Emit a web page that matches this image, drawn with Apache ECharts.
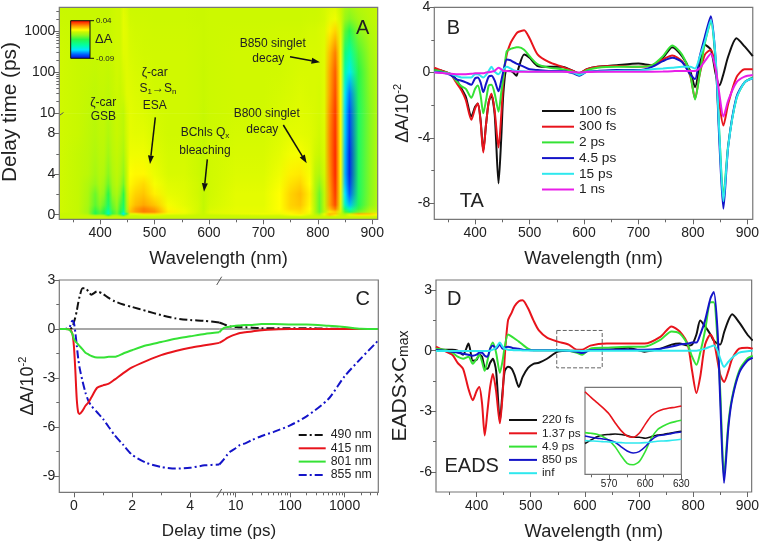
<!DOCTYPE html>
<html>
<head>
<meta charset="utf-8">
<script src="https://cdn.jsdelivr.net/npm/echarts@6/dist/echarts.min.js"></script>
<style>
html, body { margin: 0; padding: 0; background: #fff; }
#chart { width: 762px; height: 542px; }
</style>
</head>
<body>
<div id="chart"></div>
<script>
// ---- panel A: delta A map (units of 10^-2), one row per delay, one column per wavelength
const heatWavelengths = [325,360,378,391,400,407,415,423,431,437,443,449,455,465,480,500,525,555,580,590,602,650,700,730,750,768,785,795,803,812,822,832,842,850,858,875,895,910];
const heatDelays = [-0.45,-0.2,-0.05,0.1,0.3,0.6,1,2,3,4,6,8,10,30,100,300,1000,2000,3845];
const heatRows = [
  [0,0,0,0,0,0,0,0,0,0,0,0,0,0,0,0,0,0,0,0,0,0,0,0,0,0,0,0,0,0,0,0,0,0,0,0,0,0],
  [0,0,0,0,0,0,-.1,0,0,0,-.1,0,0,0,0,0,0,0,0,0,0,0,0,0,0,0,0,0,0,0,0,0,0,0,0,0,0,0],
  [0,0,-.2,-1,-.8,-1,-2.5,-1,-.7,-1.5,-3.5,-1,.2,.1,.3,.3,.1,.1,0,0,0,.1,.2,.2,.5,.6,.2,-.1,-.5,.3,1.5,1,0,-.3,.3,1,1,.6],
  [0,-.1,-.6,-2.6,-1.9,-2.5,-4.8,-2.2,-1.5,-2.8,-6,-2.4,.3,.5,1.2,1.2,.5,.4,.1,0,.2,.4,.5,.5,.8,1,.5,-.3,-1,.4,1.6,1.5,0,-.8,0,1.8,1.5,.9],
  [.1,-.1,-.8,-2.6,-1.9,-2.5,-4.5,-2.2,-1.4,-2.5,-4.3,-1,1.5,2,2.4,2.2,.9,.5,.15,0,.3,.4,.4,.6,.9,1.1,.6,-.5,-1.6,-.3,1,1.4,.2,-2,-3.2,-1.5,-.3,.1],
  [.1,-.1,-.8,-2.2,-1.5,-2.2,-3.8,-1.8,-1.2,-2.2,-3.4,-.7,1.4,2,2.4,2,.8,.45,.15,-.1,.2,.4,.4,.7,1.2,1.3,.7,-.5,-1.7,-.3,1.6,2.4,.3,-3.5,-5,-2.2,-.8,-.3],
  [.1,-.1,-.7,-1.8,-1.2,-1.7,-3.2,-1.6,-1,-2,-3,-.6,1.2,1.6,1.9,1.5,.6,.35,.15,-.1,.15,.35,.35,.7,1.3,1.5,.8,-.5,-1.7,-.2,2,3,.4,-5,-6.5,-2.8,-1.2,-.4],
  [.1,-.1,-.6,-1.6,-.8,-1.1,-2.5,-1,-.6,-1.2,-2.4,-.3,1,1.3,1.5,.9,.4,.3,.1,-.1,.1,.35,.35,.7,1.3,1.6,.9,-.5,-1.6,-.2,2,3.2,.5,-6,-7.5,-3,-1.3,-.4],
  [.1,-.1,-.5,-1,-.5,-.8,-1.6,-.7,-.3,-.8,-1.5,0,.8,1,1.2,.6,.3,.25,.1,-.1,.1,.3,.3,.6,1.1,1.3,.7,-.4,-1.1,0,2.1,3.3,.6,-6.4,-8,-3,-1.3,-.4],
  [.1,-.1,-.3,-.7,-.4,-.5,-1.2,-.5,-.2,-.5,-1.1,0,.7,.8,.8,.45,.2,.2,.05,-.1,.1,.25,.25,.5,.9,1,.6,-.2,-.5,.1,2.2,3.4,.7,-6.6,-8.3,-3,-1.3,-.4],
  [.1,-.1,-.25,-.5,-.3,-.3,-.8,-.3,-.1,-.3,-.6,.1,.5,.5,.5,.3,.15,.15,.05,-.1,.1,.2,.2,.35,.55,.6,.4,.1,0,.2,2.3,3.4,.7,-6.5,-8.3,-3,-1.3,-.4],
  [.1,0,-.2,-.35,-.2,-.2,-.5,-.2,0,-.15,-.3,.15,.4,.35,.35,.2,.1,.1,.05,-.05,.05,.15,.15,.25,.35,.35,.3,.2,.1,.25,2.3,3.3,.7,-6.3,-8,-3,-1.3,-.4],
  [.1,0,-.15,-.3,-.15,-.15,-.35,-.15,0,-.1,-.2,.2,.35,.3,.25,.15,.1,.1,.05,-.05,.05,.12,.12,.2,.25,.3,.25,.2,.15,.3,2.2,3.2,.7,-6.2,-7.8,-3,-1.3,-.4],
  [.1,0,-.1,-.2,-.1,-.1,-.2,-.05,.05,0,.1,.3,.3,.25,.2,.12,.1,.1,.05,0,.05,.1,.1,.15,.2,.25,.2,.2,.15,.3,2,3,.7,-5.8,-7.2,-2.8,-1.2,-.4],
  [.1,0,-.05,-.1,-.05,-.05,-.1,0,.1,.05,.2,.3,.25,.2,.15,.1,.1,.1,.05,0,.05,.1,.1,.12,.15,.2,.2,.2,.2,.3,1.9,2.8,.65,-4.6,-5.8,-2.5,-1.1,-.35],
  [.1,0,0,-.05,0,0,-.05,.05,.1,.1,.3,.3,.2,.15,.12,.1,.1,.1,.05,.02,.05,.1,.1,.12,.15,.15,.2,.2,.2,.3,1.6,2.4,.55,-3.5,-4.5,-2,-.9,-.3],
  [.05,0,0,0,0,0,0,.05,.1,.1,.35,.3,.15,.12,.1,.08,.08,.08,.05,.03,.05,.08,.08,.1,.1,.1,.15,.15,.2,.25,.9,1.3,.3,-1.8,-2.6,-1.2,-.5,-.2],
  [.03,0,0,0,0,0,0,.05,.1,.1,.35,.25,.1,.08,.08,.05,.05,.05,.03,.02,.05,.05,.05,.05,.05,.05,.08,.08,.1,.15,.4,.5,.1,-1,-1.3,-.7,-.3,-.1],
  [0,0,0,0,0,0,0,.05,.1,.1,.3,.2,.05,.05,.05,.05,.05,.05,.03,.02,.05,.05,.05,.05,.05,.05,.05,.05,.08,.15,.25,.3,0,-.6,-.8,-.4,-.2,-.05]
];
const colorStopValues = [-9,-7.5,-6,-4.5,-2.5,-1,0,0.7,2,3.5,4];
const colorStopColors = ['#0000d8','#0060ff','#00e8ff','#00ffa8','#28f848','#98f818','#c8f800','#ffff00','#ffa000','#ff2000','#e00000'];

// ---- panel B: transient spectra
const taWavelengths = [325,340,355,365,375,383,393,400,405,410,415,420,425,430,436,443,448,452,458,465,470,476,480,490,500,515,535,560,580,591,605,625,660,700,725,745,762,780,795,804,812,822,833,842,849,856,865,880,895,910];
const ta100fs = [.2,.1,-.1,-.4,-1,-1.5,-2.7,-2.1,-1.9,-2.9,-4.8,-3.2,-1.8,-1.4,-2.6,-6.8,-4,-1.2,.1,.1,0,-.2,.3,1.1,.9,.4,.35,.35,.1,-.05,.2,.35,.45,.55,.45,.9,1.55,1,.1,-.9,.3,1.7,1.4,-.1,-.8,-.1,1,2.1,1.6,1];
const ta300fs = [.3,.1,-.1,-.6,-1.1,-1.7,-2.9,-2.2,-1.9,-3,-4.9,-3.2,-1.8,-1.3,-2.4,-4.6,-2.6,-.4,1.1,1.8,2.1,2.4,2.5,2.6,2.1,1.1,.65,.35,.1,-.05,.2,.35,.4,.35,.45,.8,1.05,.7,-.2,-1.6,-.2,1.1,1.4,.1,-2,-3.25,-1.9,-.3,.2,.2];
const ta2ps = [.15,.05,-.1,-.5,-.85,-1,-1.55,-1,-.8,-1.4,-2.5,-1.7,-.8,-.75,-1.3,-2.4,-1.2,-.3,1.3,1.45,1.5,1.55,1.55,1.4,1,.5,.3,.2,.05,-.1,.15,.3,.35,.35,.45,1,1.65,1.1,-.1,-1.65,-.2,1.8,3.1,.5,-4,-7.6,-4.4,-1.6,-.6,-.3];
const ta45ps = [.05,0,-.15,-.4,-.5,-.6,-.75,-.35,-.3,-.6,-1.2,-.7,-.25,-.2,-.5,-1.15,-.5,.1,.8,.75,.65,.55,.5,.35,.2,.15,.1,.1,-.05,-.2,.05,.1,.15,.15,.35,.7,.9,.65,-.1,-.4,.9,2.2,3.45,.7,-4.5,-8.35,-4.5,-1.5,-.6,-.35];
const ta15ps = [.02,-.02,-.08,-.2,-.3,-.3,-.3,-.1,-.1,-.2,-.3,-.15,.1,.35,.05,-.1,.1,.2,.35,.25,.15,.1,.1,.08,.05,.05,.05,.05,0,-.15,.05,.07,.1,.12,.2,.25,.3,.35,.35,.25,.9,1.9,3.2,.8,-4,-7.9,-4.5,-1.6,-.6,-.35];
const ta1ns = [0,-.03,-.08,-.1,-.1,-.1,-.08,-.05,-.05,-.05,-.05,0,.02,.05,.1,.3,.2,.1,.1,.08,.06,.05,.05,.05,.05,.05,.05,.05,.02,0,.03,.05,.05,.05,.05,.06,.08,.1,.1,.1,.25,.7,1.15,.2,-1.4,-2.7,-1.7,-.6,-.25,-.15];

// ---- panel C: kinetics, linear part up to 5 ps then log part
const delayLinear = [-.5,-.3,-.15,-.05,0,.05,.1,.15,.2,.3,.4,.5,.6,.8,1,1.2,1.4,1.7,2,2.5,3,3.5,4,4.5,5];
const delayLog = [5,6,7,8,10,12,15,20,30,50,100,200,500,1000,2000,4160];
const kin490Linear = [0,0,0,.1,.4,.7,1.1,1.6,2,2.5,2.5,2.3,2.1,2.3,2.15,1.9,1.7,1.5,1.35,1.1,.85,.65,.55,.5,.4];
const kin415Linear = [0,0,-.02,-.3,-1,-2.5,-4.3,-5.1,-5.2,-5,-4.7,-4.5,-4.2,-3.6,-3.45,-3.35,-3.1,-2.7,-2.35,-1.95,-1.6,-1.35,-1.15,-1,-.85];
const kin801Linear = [0,0,-.05,-.3,-.6,-.75,-.85,-.95,-1.05,-1.25,-1.45,-1.55,-1.65,-1.75,-1.75,-1.7,-1.7,-1.5,-1.3,-1,-.8,-.6,-.45,-.3,-.2];
const kin855Linear = [0,0,.1,.5,.4,-.2,-1,-1.8,-2.4,-3.2,-3.9,-4.4,-4.7,-5.1,-5.5,-6,-6.5,-7.1,-7.7,-8.2,-8.45,-8.55,-8.5,-8.35,-8.3];
const kin490Log = [.4,.3,.2,.15,.12,.1,.1,.08,.05,.05,.05,.05,.02,.02,0,0];
const kin415Log = [-.85,-.7,-.55,-.45,-.33,-.25,-.2,-.15,-.08,-.03,0,0,0,0,0,0];
const kin801Log = [-.2,.05,.12,.15,.2,.22,.25,.25,.3,.3,.28,.28,.2,.12,.02,0];
const kin855Log = [-8.3,-8,-7.7,-7.5,-7.3,-7.1,-7,-6.8,-6.55,-6.3,-5.9,-5.35,-4.3,-2.9,-1.8,-.7];

// ---- panel D: EADS
const eadsWavelengths = [325,340,355,365,375,385,393,400,405,410,415,420,425,430,436,443,448,452,458,465,470,478,485,495,505,515,530,550,570,585,595,610,640,680,710,740,760,775,790,798,806,813,822,832,838,845,850,857,865,872,885,900,910];
const eads220fs = [.1,.05,.05,0,-.2,.35,-.5,-.45,-.2,-.3,-.85,-.9,-.6,-.4,-1,-3.5,-2,-1,-.8,-.9,-1.2,-1.8,-1.3,-.85,-.65,-.6,-.4,-.05,0,0,-.05,.05,.05,.15,-.05,.1,.3,.35,.25,.3,.8,1.5,1.2,.8,.5,.35,.3,.9,1.5,1.8,1.4,.8,.5];
const eads137ps = [.2,0,-.2,-.6,-.9,-1.9,-2.45,-2,-1.8,-2.6,-4.2,-3,-1.8,-1.15,-2,-3.6,-2.2,-.3,1.5,1.9,2.2,2.45,2.5,2.1,1.5,1,.65,.45,.3,.05,.05,.25,.35,.35,.35,.7,1.2,.95,.3,-1,-2.1,-1.3,.3,.8,.5,-.5,-1.2,-1.55,-1,-.4,.1,.15,.1];
const eads49ps = [.1,.05,-.1,-.3,-.4,-.3,-.65,-.4,-.2,-.55,-1,-.5,.1,.4,-.1,-1.1,-.5,.2,.8,.7,.6,.45,.3,.1,.02,.02,.02,.02,0,-.1,-.2,.1,.15,.2,.2,.55,.95,.85,.3,-.3,-.7,-.1,1,2.4,2.4,.5,-2,-6.2,-3.6,-2.3,-1,-.4,-.25];
const eads850ps = [.03,0,-.05,-.1,-.15,-.2,-.25,-.2,-.1,-.1,-.25,-.3,.1,.25,.1,.3,.1,.15,.2,.15,.12,.1,.05,.03,.02,.02,.02,.02,0,-.05,-.12,.03,.05,.05,.05,.1,.2,.3,.35,.4,.4,.8,1.5,2.6,2.9,1,-2.5,-6.55,-3.8,-2.4,-1.1,-.5,-.35];
const eadsInf = [-.02,-.02,-.02,-.02,-.02,-.02,-.02,-.02,-.02,-.02,-.02,-.02,0,.05,.15,.4,.2,.1,.05,.03,.02,.02,.01,.01,.01,.01,.01,.01,0,0,-.02,0,0,0,0,0,0,0,0,0,0,.03,.1,.2,.25,0,-.4,-.8,-.55,-.35,-.1,-.03,0];

// inset of D, 550-630 nm
const insetWavelengths = [550,555,560,565,570,575,580,585,590,595,600,605,610,615,620,625,630];
const inset220fs = [-.01,.02,.05,.065,.07,.074,.07,.06,.045,.045,.036,.05,.065,.07,.08,.09,.098];
const inset137ps = [.45,.4,.353,.306,.252,.175,.104,.056,.045,.08,.16,.234,.273,.294,.306,.312,.323];
const inset49ps = [.086,.08,.071,.05,.015,-.04,-.12,-.187,-.2,-.172,-.083,.036,.11,.145,.17,.184,.196];
const inset850ps = [.056,.045,.036,.03,.02,0,-.04,-.077,-.095,-.083,-.04,.02,.056,.065,.074,.086,.092];
const insetInf = [.015,.012,.01,.006,.003,0,-.003,-.006,-.006,-.006,-.003,.003,.01,.012,.015,.02,.027];
const insetBox = [548,632,1,-.85];

// tick lists
const waveTicks = [400,500,600,700,800,900];
const waveMinor = [350,450,550,650,750,850];
const logTicks = [10,100,1000];
const logMinor = [6,7,8,9,20,30,40,50,60,70,80,90,200,300,400,500,600,700,800,900,2000,3000,4000];

const BLACK = '#111111', RED = '#e8141c', GREEN = '#35e235', BLUE = '#1414c8', CYAN = '#2ee8ee', MAGENTA = '#e81ee8';
const FONT = '"Liberation Sans", Arial, sans-serif';
const TEXT = '#222222';

function heatColor(v) {
    let i = 0;
    while (i < colorStopValues.length - 2 && v > colorStopValues[i + 1]) i++;
    const t = Math.max(0, Math.min(1, (v - colorStopValues[i]) / (colorStopValues[i + 1] - colorStopValues[i])));
    const a = echarts.color.parse(colorStopColors[i]), b = echarts.color.parse(colorStopColors[i + 1]);
    return 'rgb(' + [0, 1, 2].map(k => Math.round(a[k] + (b[k] - a[k]) * t)).join(',') + ')';
}

const waveSpan = heatWavelengths[heatWavelengths.length - 1] - heatWavelengths[0];
const rowFills = heatRows.map(row => new echarts.graphic.LinearGradient(0, 0, 1, 0, row.map((v, j) => ({
    offset: (heatWavelengths[j] - heatWavelengths[0]) / waveSpan,
    color: heatColor(v)
}))));

// one band per delay interval, cross-faded from one measured row into the next
function renderHeatBand(params, api) {
    const row = api.value(2);
    const lo = api.coord([heatWavelengths[0], heatDelays[row]]);
    const hi = api.coord([heatWavelengths[heatWavelengths.length - 1], heatDelays[row + 1]]);
    const x = lo[0], w = hi[0] - lo[0];
    const y0 = Math.round(lo[1]), y1 = Math.round(hi[1]);
    const children = [{ type: 'rect', shape: { x: x, y: y1, width: w, height: y0 - y1 }, style: { fill: rowFills[row] } }];
    const steps = y0 - y1;
    for (let k = 0; k < steps; k++) {
        children.push({
            type: 'rect',
            shape: { x: x, y: y0 - k - 1, width: w, height: 1 },
            style: { fill: rowFills[row + 1], opacity: (k + 0.5) / steps }
        });
    }
    return { type: 'group', children: children };
}

function heatSeries(firstRow, lastRow, axisIndex) {
    const data = [];
    for (let i = firstRow; i < lastRow; i++) data.push([heatWavelengths[0], heatDelays[i], i]);
    return {
        type: 'custom', xAxisIndex: axisIndex[0], yAxisIndex: axisIndex[1], renderItem: renderHeatBand,
        data: data, silent: true, clip: true, z: 1, animation: false
    };
}

const xAxes = [], yAxes = [];

// adds the labelled axis plus a label-less one for the short ticks, returns index of the first
function addAxis(list, o) {
    const idx = list.length;
    const common = { gridIndex: o.grid, type: o.type || 'value', min: o.min, max: o.max, position: o.position, splitLine: { show: false }, logBase: 10 };
    if (o.hidden) {
        list.push(Object.assign(common, { show: false }));
        return idx;
    }
    list.push(Object.assign({}, common, {
        name: o.name, nameLocation: 'middle', nameGap: o.nameGap,
        nameTextStyle: Object.assign({ fontFamily: FONT, fontSize: 18.3, color: TEXT }, o.nameStyle || {}),
        axisLine: { show: false, onZero: false },
        axisTick: { show: true, length: 5, customValues: o.ticks, lineStyle: { color: '#666', width: 1 } },
        axisLabel: {
            show: true, customValues: o.ticks, margin: o.margin || 7, hideOverlap: false,
            fontFamily: FONT, fontSize: o.fontSize || 14, color: TEXT, formatter: v => String(v)
        }
    }));
    if (o.minor) {
        list.push(Object.assign({}, common, {
            axisLine: { show: false, onZero: false },
            axisLabel: { show: false },
            axisTick: { show: true, length: 3, customValues: o.minor, lineStyle: { color: '#666', width: 1 } }
        }));
    }
    return idx;
}

const frameBorder = { show: true, borderColor: '#777', borderWidth: 1.2, backgroundColor: 'transparent' };
const grids = [
    Object.assign({ left: 59.3, top: 7.3, width: 318.4, height: 212, z: 5 }, frameBorder),  // 0 frame A
    { left: 59.3, top: 7.3, width: 318.4, height: 106 },                                      // 1 A log part
    { left: 59.3, top: 113.3, width: 318.4, height: 106 },                                    // 2 A linear part
    Object.assign({ left: 434.3, top: 7.3, width: 319, height: 212 }, frameBorder),           // 3 B
    Object.assign({ left: 59.3, top: 280, width: 319, height: 212.3, z: 5 }, frameBorder),    // 4 frame C
    { left: 59.3, top: 280, width: 160, height: 212.3 },                                      // 5 C linear part
    { left: 219.3, top: 280, width: 159, height: 212.3 },                                     // 6 C log part
    Object.assign({ left: 436, top: 280, width: 317.3, height: 212.3 }, frameBorder),         // 7 D
    Object.assign({ left: 585, top: 387.3, width: 96.3, height: 87, z: 4 }, frameBorder, { backgroundColor: '#fff' }) // 8 inset
];

const deltaName = { rich: { t: { fontFamily: FONT, fontSize: 18, color: TEXT }, s: { fontFamily: FONT, fontSize: 11, color: TEXT, verticalAlign: 'top', lineHeight: 21 } } };
const eadsName = { rich: { t: { fontFamily: FONT, fontSize: 21, color: TEXT }, s: { fontFamily: FONT, fontSize: 14, color: TEXT, verticalAlign: 'bottom', lineHeight: 21 } } };

// panel A axes
const axALogX = addAxis(xAxes, { grid: 1, min: 325, max: 910, hidden: true, position: 'bottom' });
const axALogY = addAxis(yAxes, { grid: 1, type: 'log', min: 10, max: 3845, position: 'left', ticks: logTicks, minor: logMinor, margin: 4 });
const axALinX = addAxis(xAxes, { grid: 2, min: 325, max: 910, position: 'bottom', ticks: waveTicks, minor: waveMinor, name: 'Wavelength (nm)', nameGap: 31 });
const axALinY = addAxis(yAxes, { grid: 2, min: -0.45, max: 10, position: 'left', ticks: [0,4,8], minor: [2,6,10], margin: 4 });
// panel B axes
const axBX = addAxis(xAxes, { grid: 3, min: 325, max: 910, position: 'bottom', ticks: waveTicks, minor: waveMinor, name: 'Wavelength (nm)', nameGap: 31 });
const axBY = addAxis(yAxes, { grid: 3, min: -9, max: 4, position: 'left', ticks: [-8,-4,0,4], minor: [-6,-2,2], margin: 4,
    name: '{t|\u0394A/10}{s|-2}', nameGap: 21, nameStyle: deltaName });
// panel C axes
const axCLinX = addAxis(xAxes, { grid: 5, min: -0.5, max: 5, position: 'bottom', ticks: [0,2,4], minor: [1,3] });
const axCLinY = addAxis(yAxes, { grid: 5, min: -10, max: 3, position: 'left', ticks: [-9,-6,-3,0,3], minor: [-7.5,-4.5,-1.5,1.5], margin: 4,
    name: '{t|\u0394A/10}{s|-2}', nameGap: 21, nameStyle: deltaName });
const axCLogX = addAxis(xAxes, { grid: 6, type: 'log', min: 5, max: 4160, position: 'bottom', ticks: logTicks, minor: logMinor });
const axCLogY = addAxis(yAxes, { grid: 6, min: -10, max: 3, hidden: true, position: 'left' });
// panel D axes
const axDX = addAxis(xAxes, { grid: 7, min: 325, max: 908, position: 'bottom', ticks: waveTicks, minor: waveMinor, name: 'Wavelength (nm)', nameGap: 31 });
const axDY = addAxis(yAxes, { grid: 7, min: -7, max: 3.5, position: 'left', ticks: [-6,-3,0,3], minor: [-4.5,-1.5,1.5], margin: 4,
    name: '{t|EADS\u00d7C}{s|max}', nameGap: 25, nameStyle: eadsName });
// inset axes
const axIX = addAxis(xAxes, { grid: 8, min: 550, max: 630, position: 'bottom', ticks: [570,600,630], minor: [555,585,615], fontSize: 10, margin: 5 });
const axIY = addAxis(yAxes, { grid: 8, min: -0.285, max: 0.49, hidden: true, position: 'left' });

function lineSeries(name, xs, ys, color, xi, yi, extra) {
    return Object.assign({
        name: name, type: 'line', xAxisIndex: xi, yAxisIndex: yi, showSymbol: false, symbol: 'none', smooth: 0.25,
        data: xs.map((x, i) => [x, ys[i]]), lineStyle: { color: color, width: 2 }, itemStyle: { color: color },
        silent: true, animation: false, z: 3
    }, extra || {});
}

const DASHDOT = [8, 3, 2, 3];

function kineticsSeries(name, color, linear, log, dash) {
    const style = { color: color, width: 2, type: dash ? DASHDOT : 'solid' };
    return [
        lineSeries(name, delayLinear, linear, color, axCLinX, axCLinY, { lineStyle: style }),
        lineSeries(name, delayLog, log, color, axCLogX, axCLogY, { lineStyle: style })
    ];
}

const series = [
    heatSeries(12, 18, [axALogX, axALogY]),
    heatSeries(0, 12, [axALinX, axALinY]),

    lineSeries('100 fs', taWavelengths, ta100fs, BLACK, axBX, axBY),
    lineSeries('300 fs', taWavelengths, ta300fs, RED, axBX, axBY),
    lineSeries('2 ps', taWavelengths, ta2ps, GREEN, axBX, axBY),
    lineSeries('4.5 ps', taWavelengths, ta45ps, BLUE, axBX, axBY),
    lineSeries('15 ps', taWavelengths, ta15ps, CYAN, axBX, axBY),
    lineSeries('1 ns', taWavelengths, ta1ns, MAGENTA, axBX, axBY),

    lineSeries('zero left', [-0.5, 5], [0, 0], '#8a8a8a', axCLinX, axCLinY, { lineStyle: { color: '#8a8a8a', width: 1.5 }, z: 2 }),
    lineSeries('zero right', [5, 4160], [0, 0], '#8a8a8a', axCLogX, axCLogY, { lineStyle: { color: '#8a8a8a', width: 1.5 }, z: 2 }),
    ...kineticsSeries('490 nm', BLACK, kin490Linear, kin490Log, true),
    ...kineticsSeries('855 nm', BLUE, kin855Linear, kin855Log, true),
    ...kineticsSeries('415 nm', RED, kin415Linear, kin415Log, false),
    ...kineticsSeries('801 nm', GREEN, kin801Linear, kin801Log, false),

    lineSeries('220 fs', eadsWavelengths, eads220fs, BLACK, axDX, axDY, {
        markArea: {
            silent: true, animation: false,
            itemStyle: { color: 'rgba(0,0,0,0)', borderColor: '#666', borderWidth: 1, borderType: 'dashed' },
            data: [[{ xAxis: insetBox[0], yAxis: insetBox[2] }, { xAxis: insetBox[1], yAxis: insetBox[3] }]]
        }
    }),
    lineSeries('1.37 ps', eadsWavelengths, eads137ps, RED, axDX, axDY),
    lineSeries('4.9 ps', eadsWavelengths, eads49ps, GREEN, axDX, axDY),
    lineSeries('850 ps', eadsWavelengths, eads850ps, BLUE, axDX, axDY),
    lineSeries('inf', eadsWavelengths, eadsInf, CYAN, axDX, axDY),

    lineSeries('inset 220 fs', insetWavelengths, inset220fs, BLACK, axIX, axIY, { z: 6, lineStyle: { color: BLACK, width: 1.6 } }),
    lineSeries('inset 1.37 ps', insetWavelengths, inset137ps, RED, axIX, axIY, { z: 6, lineStyle: { color: RED, width: 1.6 } }),
    lineSeries('inset 4.9 ps', insetWavelengths, inset49ps, GREEN, axIX, axIY, { z: 6, lineStyle: { color: GREEN, width: 1.6 } }),
    lineSeries('inset 850 ps', insetWavelengths, inset850ps, BLUE, axIX, axIY, { z: 6, lineStyle: { color: BLUE, width: 1.6 } }),
    lineSeries('inset inf', insetWavelengths, insetInf, CYAN, axIX, axIY, { z: 6, lineStyle: { color: CYAN, width: 1.6 } })
];

function legendBox(names, left, top, width, height, gap, fontSize) {
    return {
        data: names, orient: 'vertical', left: left, top: top, padding: 0, itemWidth: width, itemHeight: height, itemGap: gap,
        selectedMode: false, itemStyle: { color: 'rgba(0,0,0,0)', borderWidth: 0 },
        textStyle: { fontFamily: FONT, fontSize: fontSize, color: TEXT }
    };
}

const legends = [
    legendBox(['100 fs','300 fs','2 ps','4.5 ps','15 ps','1 ns'], 541, 104, 32, 16, 1.7, 13.7),
    legendBox(['490 nm','415 nm','801 nm','855 nm'], 297.7, 429, 27, 14, 1.3, 12.3),
    legendBox(['220 fs','1.37 ps','4.9 ps','850 ps','inf'], 508, 414, 28, 14, 1.3, 11.8)
];

// annotations
function label(text, x, y, size, extra) {
    return {
        type: 'text', x: x, y: y, z: 50,
        style: Object.assign({ text: text, fill: TEXT, font: (size || 12) + 'px ' + FONT, align: 'center', verticalAlign: 'middle' }, extra || {})
    };
}

function arrow(x1, y1, x2, y2) {
    const a = Math.atan2(y2 - y1, x2 - x1), len = 8.5, half = 3;
    const bx = x2 - len * Math.cos(a), by = y2 - len * Math.sin(a);
    return [
        { type: 'line', z: 50, shape: { x1: x1, y1: y1, x2: bx, y2: by }, style: { stroke: '#111', lineWidth: 1.5 } },
        { type: 'polygon', z: 50, shape: { points: [[x2, y2], [bx - half * Math.sin(a), by + half * Math.cos(a)], [bx + half * Math.sin(a), by - half * Math.cos(a)]] }, style: { fill: '#111' } }
    ];
}

function stroke(x1, y1, x2, y2, color) {
    return { type: 'line', z: 50, shape: { x1: x1, y1: y1, x2: x2, y2: y2 }, style: { stroke: color || '#555', lineWidth: 1 } };
}

const barStops = colorStopValues.map((v, i) => ({ offset: (4 - v) / 13, color: colorStopColors[i] })).reverse();
const graphics = [
    label('Delay time (ps)', 10.5, 112, 20.8),
    label('Delay time (ps)', 219, 531, 17),
    label('A', 362.7, 28.5, 20), label('B', 453.3, 28, 20), label('C', 362.7, 299.5, 20), label('D', 454.3, 299.5, 20),
    label('TA', 471.7, 201, 20), label('EADS', 471.7, 466, 20),

    label('\u03b6-car', 103.3, 102.7), label('GSB', 103.3, 117),
    label('\u03b6-car', 154.7, 72.3),
    { type: 'text', x: 158, y: 88.5, z: 50, style: { text: '{a|S}{b|1}{a|\u2192S}{b|n}', align: 'center', verticalAlign: 'middle', rich: { a: { font: '12px ' + FONT, fill: TEXT }, b: { font: '8px ' + FONT, fill: TEXT, verticalAlign: 'bottom', lineHeight: 15 } } } },
    label('ESA', 154.7, 106),
    { type: 'text', x: 205, y: 132.7, z: 50, style: { text: '{a|BChls Q}{b|x}', align: 'center', verticalAlign: 'middle', rich: { a: { font: '12px ' + FONT, fill: TEXT }, b: { font: '8px ' + FONT, fill: TEXT, verticalAlign: 'bottom', lineHeight: 15 } } } },
    label('bleaching', 205, 150.7),
    label('B800 singlet', 266.7, 113.3), label('decay', 262.3, 129.3),
    label('B850 singlet', 272.7, 44), label('decay', 268.3, 58.7),
    ...arrow(155.3, 117.3, 150, 164),
    ...arrow(290, 56.7, 320, 62.3),
    ...arrow(283.3, 125, 306.7, 163.3),
    ...arrow(207.3, 159.3, 204, 191.7),

    // colour bar
    { type: 'rect', z: 50, shape: { x: 70.7, y: 20.7, width: 19.3, height: 37.6 },
      style: { fill: new echarts.graphic.LinearGradient(0, 0, 0, 1, barStops), stroke: '#111', lineWidth: 1 } },
    stroke(90, 20.7, 94, 20.7, '#111'), stroke(90, 58.3, 94, 58.3, '#111'),
    label('0.04', 96, 20.7, 8, { align: 'left' }), label('-0.09', 96, 58.3, 8, { align: 'left' }),
    label('\u0394A', 103.7, 39.3, 13),

    // axis breaks
    stroke(60, 115, 63.5, 112.5),
    stroke(216.7, 285, 221.7, 276.7), stroke(216.7, 497.3, 221.7, 489)
];
graphics[0].rotation = Math.PI / 2;

const myChart = echarts.init(document.getElementById('chart'), null, { renderer: 'canvas' });
myChart.setOption({
    animation: false,
    backgroundColor: '#fff',
    grid: grids,
    xAxis: xAxes,
    yAxis: yAxes,
    legend: legends,
    series: series,
    graphic: { elements: graphics }
});
</script>
</body>
</html>
